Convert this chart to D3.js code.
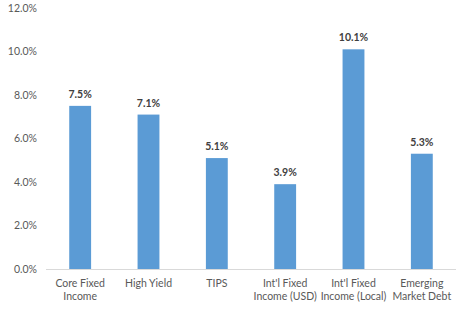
<!DOCTYPE html>
<html><head><meta charset="utf-8">
<script src="https://cdn.jsdelivr.net/npm/d3@7"></script>
<style>body{margin:0;background:#fff}svg{display:block}</style>
</head><body>
<script>
const categories = [["Core Fixed","Income"],["High Yield"],["TIPS"],["Int'l Fixed","Income (USD)"],["Int'l Fixed","Income (Local)"],["Emerging","Market Debt"]];
const values = [7.5, 7.1, 5.1, 3.9, 10.1, 5.3];
const yTicks = [0, 2, 4, 6, 8, 10, 12];

const W = 470, H = 329;
const m = {left: 46, right: 14, top: 8, bottom: 60};
const font = "Lato, 'Liberation Sans', sans-serif";
const svg = d3.select("body").append("svg").attr("width", W).attr("height", H);

const x = d3.scaleBand().domain(d3.range(values.length)).range([m.left, W - m.right]).paddingInner(0.68).paddingOuter(0.34);
const y = d3.scaleLinear().domain([0, 12]).range([H - m.bottom, m.top]);

svg.append("g").selectAll("text").data(yTicks).join("text")
  .attr("x", 37).attr("y", d => y(d)).attr("dy", "0.35em")
  .attr("text-anchor", "end").attr("font-family", font).attr("font-size", 10.5)
  .attr("fill", "#595959").text(d => d.toFixed(1) + "%");

svg.append("g").selectAll("rect").data(values).join("rect")
  .attr("x", (d, i) => x(i)).attr("width", x.bandwidth())
  .attr("y", d => y(d)).attr("height", d => y(0) - y(d))
  .attr("fill", "#5B9BD5");

svg.append("line").attr("x1", m.left).attr("x2", W - m.right)
  .attr("y1", y(0) + 0.5).attr("y2", y(0) + 0.5).attr("stroke", "#D9D9D9").attr("stroke-width", 1);

svg.append("g").selectAll("text").data(values).join("text")
  .attr("x", (d, i) => x(i) + x.bandwidth() / 2).attr("y", d => y(d) - 8)
  .attr("text-anchor", "middle").attr("font-family", font).attr("font-size", 10.5)
  .attr("font-weight", "bold").attr("fill", "#404040").text(d => d.toFixed(1) + "%");

const lab = svg.append("g").selectAll("text").data(categories).join("text")
  .attr("x", (d, i) => x(i) + x.bandwidth() / 2).attr("y", y(0) + 18)
  .attr("text-anchor", "middle").attr("font-family", font).attr("font-size", 10.5).attr("fill", "#595959");
lab.each(function(d, i) {
  const t = d3.select(this);
  d.forEach((s, j) => t.append("tspan").attr("x", x(i) + x.bandwidth() / 2).attr("dy", j ? 13 : 0).text(s));
});
</script>
</body></html>
